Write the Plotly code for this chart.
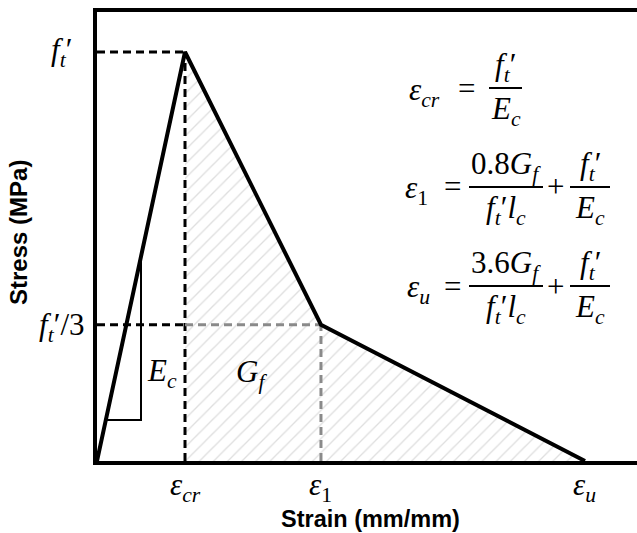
import plotly.graph_objects as go

# Bilinear tension-softening law in normalised units (eps_cr = 1, f_t' = 1)
strain_keys = [0.0, 1.0, 2.545, 5.545]      # 0, eps_cr, eps_1, eps_u
stress_keys = [0.0, 1.0, 1.0 / 3.0, 0.0]    # 0, f_t', f_t'/3, 0
x_tick_text = ["<i>ε</i><sub><i>cr</i></sub>", "<i>ε</i><sub>1</sub>", "<i>ε</i><sub><i>u</i></sub>"]
y_tick_text = ["<i>f</i><sub><i>t</i></sub>′", "<i>f</i><sub><i>t</i></sub>′/3"]
# little stiffness triangle on the elastic branch
ec_tri_x = [0.1, 0.5, 0.5]
ec_tri_y = [0.1, 0.1, 0.5]

eps_cr, eps_1, eps_u = strain_keys[1], strain_keys[2], strain_keys[3]
ft, ft3 = stress_keys[1], stress_keys[2]

W, H = 637, 533
L, R, T, B = 97, 637, 12, 461
X_MAX = 6.136
Y_MAX = 1.0978

MATH = "Liberation Serif, Times New Roman, serif"
SANS = "Liberation Sans, Arial, sans-serif"
MSIZE = 31


def px(x):
    return (x - L) / (R - L)


def py(y):
    return (B - y) / (B - T)


fig = go.Figure()

# fracture energy area under the softening branch
fig.add_trace(go.Scatter(
    x=[eps_cr] + strain_keys[1:], y=[0.0] + stress_keys[1:],
    mode="lines", fill="toself", line=dict(width=0, color="rgba(0,0,0,0)"),
    fillcolor="rgba(0,0,0,0)",
    fillpattern=dict(shape="/", fgcolor="#bdbdbd", bgcolor="rgba(0,0,0,0)",
                     size=10, solidity=0.13),
    hoverinfo="skip", showlegend=False))

dash = "8px,5px"
black_dash = [
    ([0, eps_cr], [ft, ft]),
    ([eps_cr, eps_cr], [0, ft]),
    ([0, eps_cr], [ft3, ft3]),
]
grey_dash = [
    ([eps_cr, eps_1], [ft3, ft3]),
    ([eps_1, eps_1], [0, ft3]),
]
for xs, ys in black_dash:
    fig.add_trace(go.Scatter(x=xs, y=ys, mode="lines", showlegend=False,
                             line=dict(color="black", width=3, dash=dash)))
for xs, ys in grey_dash:
    fig.add_trace(go.Scatter(x=xs, y=ys, mode="lines", showlegend=False,
                             line=dict(color="#8a8a8a", width=3, dash=dash)))

# stiffness triangle
fig.add_trace(go.Scatter(x=ec_tri_x, y=ec_tri_y, mode="lines", showlegend=False,
                         line=dict(color="black", width=2)))

# stress-strain curve
fig.add_trace(go.Scatter(x=strain_keys, y=stress_keys, mode="lines", showlegend=False,
                         line=dict(color="black", width=4)))

annotations = []


def math_at(text, x, y, xref="paper", yref="paper", size=MSIZE, xanchor="center"):
    annotations.append(dict(text=text, x=x, y=y, xref=xref, yref=yref,
                            xanchor=xanchor, yanchor="middle", showarrow=False,
                            borderpad=0,
                            font=dict(family=MATH, size=size, color="black")))


# axis tick labels
for xv, txt in zip([eps_cr, eps_1, eps_u], x_tick_text):
    math_at(txt, xv, py(487), xref="x")
math_at(y_tick_text[0], px(61), ft + 0.0, yref="y")
math_at(y_tick_text[1], px(62), ft3 - 0.005, yref="y")

# in-plot labels
math_at("<i>E</i><sub><i>c</i></sub>", 0.74, 0.215, xref="x", yref="y")
math_at("<i>G</i><sub><i>f</i></sub>", 1.76, 0.212, xref="x", yref="y")

shapes = []


def frac(num, den, x0, x1, ybar, dy=21):
    xc = (x0 + x1) / 2
    shapes.append(dict(type="line", xref="paper", yref="paper",
                       x0=px(x0), x1=px(x1), y0=py(ybar), y1=py(ybar),
                       line=dict(color="black", width=2)))
    math_at(num, px(xc), py(ybar - dy))
    math_at(den, px(xc), py(ybar + dy + 2))


ft_txt = "<i>f</i><sub><i>t</i></sub>′"
ec_txt = "<i>E</i><sub><i>c</i></sub>"
den_txt = "<i>f</i><sub><i>t</i></sub>′<i>l</i><sub><i>c</i></sub>"

# eps_cr = f_t'/E_c
math_at("<i>ε</i><sub><i>cr</i></sub>", px(424), py(92))
math_at("=", px(466), py(89))
frac(ft_txt, ec_txt, 489, 522, 88)

# eps_1 and eps_u
for lhs, coef, ybar, xl in [("<i>ε</i><sub>1</sub>", "0.8", 187, 416),
                             ("<i>ε</i><sub><i>u</i></sub>", "3.6", 286, 418)]:
    math_at(lhs, px(xl), py(ybar + 3))
    math_at("=", px(452), py(ybar))
    frac(coef + "<i>G</i><sub><i>f</i></sub>", den_txt, 469, 543, ybar)
    math_at("+", px(555), py(ybar))
    frac(ft_txt, ec_txt, 570, 610, ybar)

# axis titles
annotations.append(dict(text="<b>Strain (mm/mm)</b>", x=px(370), y=py(519),
                        xref="paper", yref="paper", showarrow=False, borderpad=0,
                        xanchor="center", yanchor="middle",
                        font=dict(family=SANS, size=23.5, color="black")))
annotations.append(dict(text="<b>Stress (MPa)</b>", x=px(18), y=py(233),
                        xref="paper", yref="paper", showarrow=False, textangle=-90,
                        borderpad=0, xanchor="center", yanchor="middle",
                        font=dict(family=SANS, size=24, color="black")))

fig.update_layout(
    width=W, height=H,
    margin=dict(l=L, r=W - R, t=T, b=H - B, pad=0),
    paper_bgcolor="white", plot_bgcolor="white",
    xaxis=dict(range=[0, X_MAX], showgrid=False, zeroline=False, showticklabels=False,
               ticks="", showline=True, linecolor="black", linewidth=3.5, mirror=True,
               fixedrange=True),
    yaxis=dict(range=[0, Y_MAX], showgrid=False, zeroline=False, showticklabels=False,
               ticks="", showline=True, linecolor="black", linewidth=3.5, mirror=False,
               fixedrange=True),
    annotations=annotations,
    shapes=shapes,
)

fig.write_html("out.html")
